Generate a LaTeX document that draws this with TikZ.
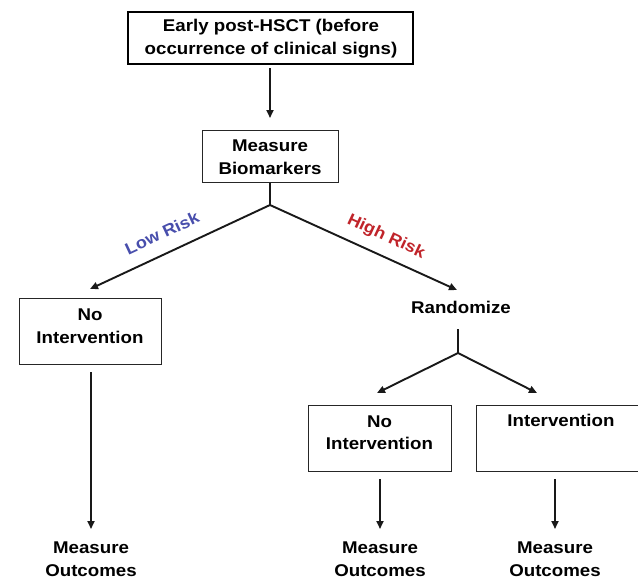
\documentclass[tikz,border=0pt]{standalone}
\usepackage{fontspec}
\setmainfont[FakeStretch=1.1]{Liberation Sans}
\usetikzlibrary{arrows.meta}
\definecolor{lowblue}{RGB}{72,78,172}
\definecolor{highred}{RGB}{192,36,42}
\tikzset{
  txt/.style={font=\fontsize{17}{22.5}\selectfont\bfseries, align=center, inner sep=0pt},
  thinbox/.style={draw=black!85, line width=1pt, rectangle, inner sep=0pt},
  thickbox/.style={draw=black, line width=2pt, rectangle, inner sep=0pt},
  conn/.style={line width=1.9pt, draw=black!90},
  arr/.style={conn, -{Triangle[length=8pt,width=7pt]}},
  risk/.style={font=\fontsize{16.5}{18}\selectfont\bfseries, inner sep=0pt}
}
\begin{document}
\begin{tikzpicture}[x=1pt,y=-1pt]
\useasboundingbox (0,0) rectangle (638,579);
% boxes
\node[thickbox, minimum width=285pt, minimum height=52pt] (top) at (270.5,38) {};
\node[txt] (topt) at (271,38.5) {Early post-HSCT (before\\occurrence of clinical signs)};
\node[thinbox, minimum width=136pt, minimum height=52pt] (bio) at (270,156) {};
\node[txt] (biot) at (270,157) {Measure\\Biomarkers};
\node[thinbox, minimum width=142pt, minimum height=66pt] (nl) at (90,331) {};
\node[txt] (nlt) at (90,326) {No\\Intervention};
\node[txt] (rand) at (461,307) {Randomize};
\node[thinbox, minimum width=143pt, minimum height=66pt] (nm) at (379.5,438) {};
\node[txt] (nmt) at (379.5,432.5) {No\\Intervention};
\node[thinbox, minimum width=174pt, minimum height=66pt] (ri) at (563,438) {};
\node[txt] (rit) at (561,420) {Intervention};
\node[txt] (mo1) at (91,559) {Measure\\Outcomes};
\node[txt] (mo2) at (380,559) {Measure\\Outcomes};
\node[txt] (mo3) at (555,559) {Measure\\Outcomes};
% junctions
\coordinate (j0) at (270,68);
\coordinate (j0e) at (270,118);
\coordinate (j1) at (270,205);
\coordinate (r0) at (458,329);
\coordinate (j2) at (458,353);
\coordinate (tipl) at (90,289);
\coordinate (tipr) at (457,290);
\coordinate (tipm) at (377,393);
\coordinate (tipi) at (537,393);
\coordinate (e1) at (91,529);
\coordinate (e2) at (380,529);
\coordinate (e3) at (555,529);
% connectors
\draw[arr] (j0) -- (j0e);
\draw[conn] (bio.south) -- (j1);
\draw[arr] (j1) -- (tipl);
\draw[arr] (j1) -- (tipr);
\draw[conn] (r0) -- (j2);
\draw[arr] (j2) -- (tipm);
\draw[arr] (j2) -- (tipi);
\draw[arr] (e1 |- 0,372) -- (e1);
\draw[arr] (e2 |- 0,479) -- (e2);
\draw[arr] (e3 |- 0,479) -- (e3);
% labels
\node[risk, text=lowblue, rotate=25] (low) at (162,233) {Low Risk};
\node[risk, text=highred, rotate=-25] (high) at (386,237) {High Risk};
\end{tikzpicture}
\end{document}
